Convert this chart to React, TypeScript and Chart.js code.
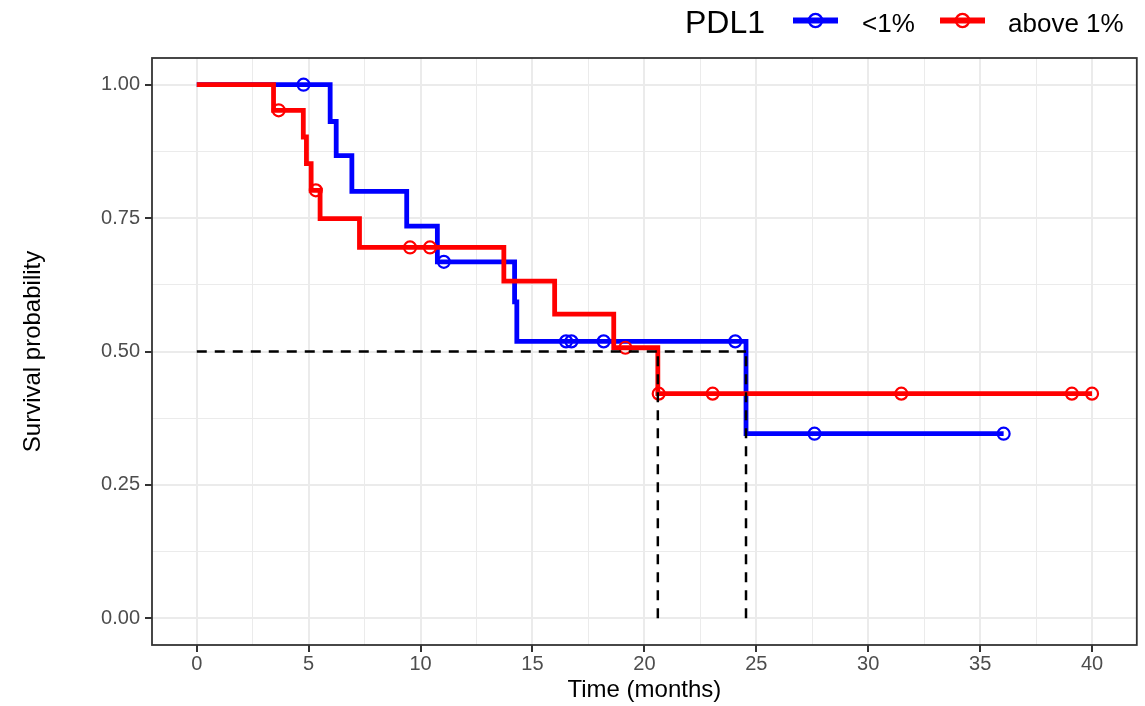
import React, { useEffect, useRef } from "react";
import { Chart, registerables } from "chart.js";

Chart.register(...registerables);

const FONT = '"Liberation Sans", Arial, Helvetica, sans-serif';

// PDL1 <1% (blue)
const lowTimes = [0, 4.77, 5.96, 6.23, 6.93, 9.38, 10.75, 11.04, 14.2, 14.3, 16.5, 16.74, 18.18, 24.06, 24.54, 27.6, 36.05];
const lowSurv = [1, 1, 0.931, 0.867, 0.8, 0.735, 0.668, 0.668, 0.593, 0.519, 0.519, 0.519, 0.519, 0.519, 0.346, 0.346, 0.346];
const lowCensored = [false, true, false, false, false, false, false, true, false, false, true, true, true, true, false, true, true];

// PDL1 above 1% (red)
const highTimes = [0, 3.43, 3.66, 4.76, 4.9, 5.11, 5.32, 5.51, 7.27, 9.53, 10.42, 13.72, 15.99, 18.63, 19.15, 20.6, 20.64, 23.05, 31.48, 39.1, 40.0];
const highSurv = [1, 0.952, 0.952, 0.902, 0.852, 0.802, 0.802, 0.749, 0.695, 0.695, 0.695, 0.632, 0.57, 0.507, 0.507, 0.421, 0.421, 0.421, 0.421, 0.421, 0.421];
const highCensored = [false, false, true, false, false, false, true, false, false, true, true, false, false, false, true, false, true, true, true, true, true];

// Median survival lines
const medianTimes = [20.6, 24.54];
const medianLevel = 0.5;

// Axis ticks
const xMajorTicks = [0, 5, 10, 15, 20, 25, 30, 35, 40];
const xMinorTicks = [2.5, 7.5, 12.5, 17.5, 22.5, 27.5, 32.5, 37.5];
const yMajorTicks = [0, 0.25, 0.5, 0.75, 1];
const yMinorTicks = [0.125, 0.375, 0.625, 0.875];

const legendTitle = "PDL1";
const legendLabels = ["<1%", "above 1%"];
const BLUE = "#0000FF";
const RED = "#FF0000";

const isMajorX = (v: number) => xMajorTicks.some((m) => Math.abs(m - v) < 1e-9);
const isMajorY = (v: number) => yMajorTicks.some((m) => Math.abs(m - v) < 1e-9);

const panelPlugin = {
  id: "panelAndLegend",
  afterDraw(chart: any) {
    const { ctx, chartArea } = chart;
    ctx.save();
    ctx.strokeStyle = "#333333";
    ctx.lineWidth = 1.8;
    ctx.strokeRect(chartArea.left, chartArea.top, chartArea.right - chartArea.left, chartArea.bottom - chartArea.top);

    // legend
    ctx.fillStyle = "#000000";
    ctx.textBaseline = "alphabetic";
    ctx.textAlign = "left";
    ctx.font = `32px ${FONT}`;
    ctx.fillText(legendTitle, 685, 32.5);
    const keys = [
      { x0: 793, x1: 838, color: BLUE, label: legendLabels[0], tx: 862 },
      { x0: 940, x1: 985, color: RED, label: legendLabels[1], tx: 1008 },
    ];
    const ky = 20.5;
    for (const k of keys) {
      ctx.strokeStyle = k.color;
      ctx.lineWidth = 6;
      ctx.lineCap = "butt";
      ctx.beginPath();
      ctx.moveTo(k.x0, ky);
      ctx.lineTo(k.x1, ky);
      ctx.stroke();
      ctx.lineWidth = 2.4;
      ctx.beginPath();
      ctx.arc((k.x0 + k.x1) / 2, ky, 6.6, 0, Math.PI * 2);
      ctx.stroke();
      ctx.fillStyle = "#000000";
      ctx.font = `26px ${FONT}`;
      ctx.fillText(k.label, k.tx, 31.7);
    }
    ctx.restore();
  },
};

export default function App() {
  const ref = useRef<HTMLCanvasElement | null>(null);

  useEffect(() => {
    if (!ref.current) return;
    const curve = (times: number[], surv: number[], cens: boolean[], color: string, label: string) => ({
      label,
      data: times.map((t, i) => ({ x: t, y: surv[i] })),
      stepped: "before" as const,
      borderColor: color,
      borderWidth: 4.8,
      borderCapStyle: "butt" as const,
      borderJoinStyle: "miter" as const,
      fill: false,
      pointRadius: (c: any) => (cens[c.dataIndex] ? 6 : 0),
      pointHoverRadius: (c: any) => (cens[c.dataIndex] ? 6 : 0),
      pointBorderWidth: 2.2,
      pointBorderColor: color,
      pointBackgroundColor: "rgba(0,0,0,0)",
      pointStyle: "circle" as const,
    });
    const dashed = (pts: { x: number; y: number }[]) => ({
      label: "median",
      data: pts,
      borderColor: "#000000",
      borderWidth: 2.5,
      borderDash: [10, 8],
      borderCapStyle: "butt" as const,
      pointRadius: 0,
      fill: false,
    });
    const lastMedian = Math.max(...medianTimes);
    const datasets: any[] = [
      dashed([
        { x: 0, y: medianLevel },
        { x: lastMedian, y: medianLevel },
      ]),
      ...medianTimes.map((m) =>
        dashed([
          { x: m, y: 0 },
          { x: m, y: medianLevel },
        ])
      ),
      curve(highTimes, highSurv, highCensored, RED, legendLabels[1]),
      curve(lowTimes, lowSurv, lowCensored, BLUE, legendLabels[0]),
    ];

    const chart = new Chart(ref.current, {
      type: "line",
      data: { datasets },
      options: {
        animation: false,
        responsive: false,
        events: [],
        layout: { padding: { top: 58, right: 7, left: 0, bottom: 0 } },
        plugins: { legend: { display: false }, tooltip: { enabled: false } },
        scales: {
          x: {
            type: "linear",
            min: -2,
            max: 42,
            afterBuildTicks: (s: any) => {
              s.ticks = [...xMajorTicks, ...xMinorTicks].sort((a, b) => a - b).map((v) => ({ value: v }));
            },
            afterFit: (s: any) => {
              s.height = 61;
            },
            border: { display: false },
            grid: {
              color: "#EBEBEB",
              lineWidth: (c: any) => (c.tick && isMajorX(c.tick.value) ? 2 : 1),
              tickColor: (c: any) => (c.tick && isMajorX(c.tick.value) ? "#333333" : "rgba(0,0,0,0)"),
              tickWidth: 2,
              tickLength: 7,
              drawTicks: true,
            },
            ticks: {
              autoSkip: false,
              maxRotation: 0,
              minRotation: 0,
              padding: 0,
              color: "#4D4D4D",
              font: { family: FONT, size: 20, lineHeight: 1.2 },
              callback: (v: any) => (isMajorX(Number(v)) ? String(v) : ""),
            },
            title: {
              display: true,
              text: "Time (months)",
              color: "#000000",
              font: { family: FONT, size: 24, lineHeight: 1.2 },
              padding: { top: 0, bottom: 1 },
            },
          },
          y: {
            type: "linear",
            min: -0.05,
            max: 1.05,
            afterBuildTicks: (s: any) => {
              s.ticks = [...yMajorTicks, ...yMinorTicks].sort((a, b) => a - b).map((v) => ({ value: v }));
            },
            afterFit: (s: any) => {
              s.width = 152;
            },
            border: { display: false },
            grid: {
              color: "#EBEBEB",
              lineWidth: (c: any) => (c.tick && isMajorY(c.tick.value) ? 2 : 1),
              tickColor: (c: any) => (c.tick && isMajorY(c.tick.value) ? "#333333" : "rgba(0,0,0,0)"),
              tickWidth: 2,
              tickLength: 7,
              drawTicks: true,
            },
            ticks: {
              autoSkip: false,
              padding: 5,
              color: "#4D4D4D",
              font: { family: FONT, size: 20, lineHeight: 1.2 },
              callback: (v: any) => (isMajorY(Number(v)) ? Number(v).toFixed(2) : ""),
            },
            title: {
              display: true,
              text: "Survival probability",
              color: "#000000",
              font: { family: FONT, size: 24, lineHeight: 1.2 },
              padding: { top: 19, bottom: 0 },
            },
          },
        },
      },
      plugins: [panelPlugin],
    });
    return () => chart.destroy();
  }, []);

  return (
    <div style={{ position: "fixed", left: 0, top: 0, width: 1145, height: 706, background: "#FFFFFF" }}>
      <canvas ref={ref} width={1145} height={706} style={{ width: 1145, height: 706, display: "block" }} />
    </div>
  );
}
